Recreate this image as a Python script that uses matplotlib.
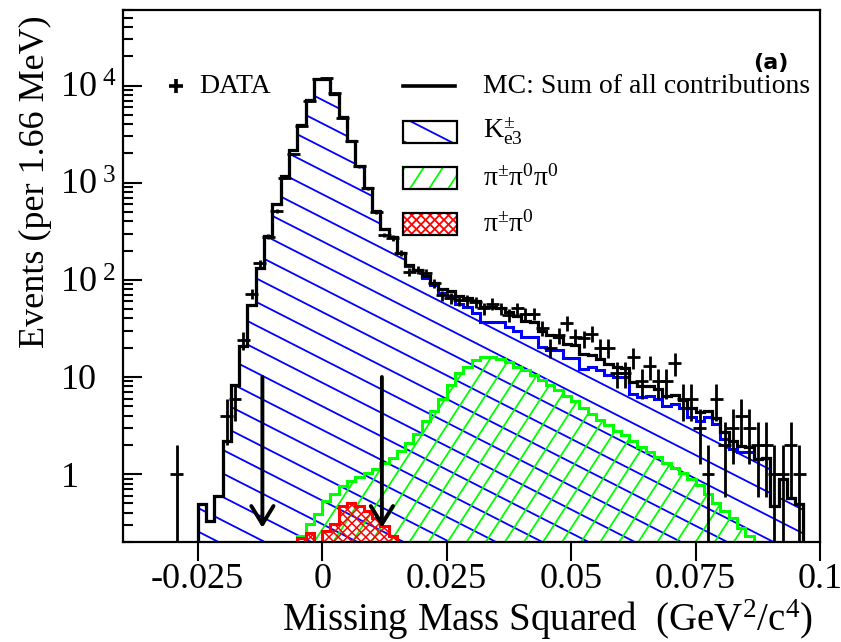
import numpy as np
import matplotlib
matplotlib.use("Agg")
import matplotlib.pyplot as plt
from matplotlib.patches import Polygon, Rectangle
from matplotlib.collections import LineCollection
from matplotlib.ticker import NullLocator, NullFormatter

plt.rcParams['font.family'] = ['Liberation Serif', 'DejaVu Serif']
plt.rcParams['mathtext.fontset'] = 'custom'
plt.rcParams['mathtext.rm'] = 'Liberation Serif'
plt.rcParams['mathtext.it'] = 'Liberation Serif:italic'
plt.rcParams['mathtext.bf'] = 'Liberation Serif:bold'
plt.rcParams['mathtext.default'] = 'rm'

# binning: 84 bins of 1.66 MeV between -0.04 and 0.1 GeV^2/c^4
x_lo, x_hi, n_bins = -0.04, 0.1, 84

# MC K_e3 (first filled bin = 9)
ke3_first = 9
ke3 = [0.49, 0.33, 0.59, 2.2, 8.2, 21, 55, 131, 285, 605,
       1160, 2150, 3960, 7180, 11600, 11800, 8200, 4760, 2670, 1500,
       880, 515, 333, 276, 188, 140, 125, 105, 88, 74,
       68, 57, 52, 46, 36.5, 36.5, 36.5, 33, 30, 25.8,
       25.8, 20.3, 18.8, 18.8, 15.5, 15.5, 12.2, 12.8, 11.7, 10.4,
       9.9, 9.9, 6.75, 6.2, 6.4, 6.0, 5.07, 5.3, 4.77, 3.84,
       3.55, 3.84, 3.3, 2.3, 1.83, 1.67, 1.67, 1.44, 1.48, 0.47,
       0.89, 0.57, 0.49]

# MC pi+- pi0 pi0 (first filled bin = 21)
pi3_first = 21
pi3 = [0.23, 0.31, 0.39, 0.53, 0.63, 0.76, 0.85, 0.94, 1.03, 1.13,
       1.31, 1.47, 1.74, 2.1, 2.6, 3.55, 4.5, 6.0, 8.2, 10.9,
       12.8, 14.8, 15.9, 15.9, 15.2, 14.1, 12.8, 11.7, 10.6, 9.2,
       8.2, 7.3, 6.3, 5.6, 4.85, 4.2, 3.64, 3.23, 2.8, 2.5,
       2.2, 1.9, 1.7, 1.5, 1.3, 1.16, 1.03, 0.9, 0.78, 0.63,
       0.5, 0.42, 0.35, 0.28, 0.23]

# MC pi+- pi0 (first filled bin = 21)
pi2_first = 21
pi2 = [0.22, 0.25, 0.0, 0.26, 0.31, 0.47, 0.5, 0.47, 0.42, 0.35,
       0.29, 0.23]

# data: bin index and counts
data_bins = [6] + list(range(12, 82))
data_counts = [1, 4, 6, 24, 72, 148, 278, 516, 1116, 1990,
               3800, 6900, 11600, 12100, 8430, 4650, 2670, 1470, 880, 504,
               290, 270, 189, 121, 126, 117, 92, 69, 65, 62,
               62, 59, 51, 57, 51, 43, 51, 45, 45, 32,
               20, 27, 36, 26, 25, 28, 20, 20, 11, 11,
               16, 9, 13, 9, 9, 14, 6, 6, 3, 1,
               6, 2, 3, 4, 3, 2, 2, 1, 1, 2,
               1]

cut_lo, cut_hi = -0.012, 0.012
arrow_top, arrow_tip = 10, 0.28

edges = np.linspace(x_lo, x_hi, n_bins + 1)
centers = 0.5 * (edges[:-1] + edges[1:])
half_w = 0.0013
base = 1e-3


def full(first, vals):
    a = np.zeros(n_bins)
    a[first:first + len(vals)] = vals
    return a


h_ke3 = full(ke3_first, ke3)
h_pi3 = full(pi3_first, pi3)
h_pi2 = full(pi2_first, pi2)
h_sum = h_ke3 + h_pi3 + h_pi2

fig = plt.figure(figsize=(8.41, 6.42), dpi=100)
ax = fig.add_axes([123 / 841, 100 / 642, 697 / 841, 532 / 642])
ax.set_yscale('log')
ax.set_xlim(x_lo, x_hi)
ax.set_ylim(0.2, 6e4)


def hist_range(values):
    nz = np.nonzero(values)[0]
    return nz[0], nz[-1]


def hist_polygon(values):
    i0, i1 = hist_range(values)
    verts = [(edges[i0], base)]
    for i in range(i0, i1 + 1):
        v = max(values[i], base)
        verts += [(edges[i], v), (edges[i + 1], v)]
    verts.append((edges[i1 + 1], base))
    poly = Polygon(verts, closed=True, facecolor='none', edgecolor='none')
    ax.add_patch(poly)
    return poly


def hatch_lines(clip, angle, spacing, color, lw=1.0, z=1.0):
    bb = ax.get_window_extent()
    W, H = bb.width, bb.height
    a = np.deg2rad(angle)
    d = np.array([np.cos(a), np.sin(a)])
    nrm = np.array([-np.sin(a), np.cos(a)])
    L = np.hypot(W, H)
    segs = []
    for o in np.arange(-L, L, spacing):
        c = np.array([W / 2, H / 2]) + o * nrm
        p0, p1 = c - L * d, c + L * d
        segs.append([(p0[0] / W, p0[1] / H), (p1[0] / W, p1[1] / H)])
    lc = LineCollection(segs, colors=color, linewidths=lw,
                        transform=ax.transAxes, zorder=z)
    ax.add_collection(lc, autolim=False)
    lc.set_clip_path(clip)


def outline(values, color, lw, z):
    i0, i1 = hist_range(values)
    ax.stairs(np.maximum(values[i0:i1 + 1], base), edges[i0:i1 + 2],
              baseline=base, color=color, lw=lw, zorder=z)


styles = [  # (hist, colour, angle, spacing)
    (h_ke3, '#0000ff', -27, 21),
    (h_pi3, '#00ff00', 57, 16),
]
for i, (h, col, ang, sp) in enumerate(styles):
    p = hist_polygon(h)
    hatch_lines(p, ang, sp, col, 1.3, 1.0 + 0.1 * i)
p = hist_polygon(h_pi2)
hatch_lines(p, 45, 6.5, '#ff0000', 1.1, 1.2)
hatch_lines(p, -45, 6.5, '#ff0000', 1.1, 1.2)

outline(h_ke3, '#0000ff', 2.2, 2.0)
outline(h_pi3, '#00ff00', 2.2, 2.1)
outline(h_pi2, '#ff0000', 2.2, 2.2)
outline(h_sum, 'black', 2.3, 3.0)

# data points with sqrt(N) errors
xd = centers[data_bins]
yd = np.array(data_counts, dtype=float)
err = np.sqrt(yd)
lo = np.minimum(err, yd * 0.9999)
ax.errorbar(xd, yd, yerr=[lo, err], xerr=half_w, fmt='none',
            ecolor='black', elinewidth=2.0, capsize=0, zorder=4)

# cut arrows
for xc in (cut_lo, cut_hi):
    ax.annotate('', xy=(xc, arrow_tip), xytext=(xc, arrow_top),
                arrowprops=dict(arrowstyle='->,head_length=0.65,head_width=0.4',
                                lw=2.8, color='black', shrinkA=0, shrinkB=0,
                                mutation_scale=20), zorder=5)

# legend (drawn by hand to mimic the ROOT style)
ax.plot([0.076], [0.857], marker='+', markersize=10, mew=2.6, color='black',
        transform=ax.transAxes, zorder=6)
ax.text(0.109, 0.857, 'DATA', transform=ax.transAxes, fontsize=20, va='center')
ax.plot([0.402, 0.476], [0.857, 0.857], color='black', lw=2.6,
        transform=ax.transAxes, zorder=6)
ax.text(0.516, 0.857, 'MC: Sum of all contributions', transform=ax.transAxes,
        fontsize=20, va='center')

leg_items = [
    (0.771, r'K$^{\pm}_{\mathrm{e3}}$', [('#0000ff', -27, 21)]),
    (0.684, r'π$^{\pm}$π$^{0}$π$^{0}$', [('#00ff00', 57, 16)]),
    (0.598, r'π$^{\pm}$π$^{0}$', [('#ff0000', 45, 6.5), ('#ff0000', -45, 6.5)]),
]
box_x, box_w, box_h = 0.402, 0.077, 0.041
for yc, label, hatches in leg_items:
    bg = Rectangle((box_x, yc - box_h / 2), box_w, box_h, transform=ax.transAxes,
                   facecolor='white', edgecolor='none', zorder=5)
    ax.add_patch(bg)
    for col, ang, sp in hatches:
        hatch_lines(bg, ang, sp, col, 1.3, 5.5)
    ax.add_patch(Rectangle((box_x, yc - box_h / 2), box_w, box_h,
                           transform=ax.transAxes, fill=False,
                           edgecolor='black', lw=1.6, zorder=6))
    ax.text(0.516, yc, label, transform=ax.transAxes, fontsize=20, va='center')

ax.text(0.929, 0.9, '(a)', transform=ax.transAxes, fontsize=16,
        family='DejaVu Sans', fontweight='bold', ha='center', va='center')

# axes cosmetics
x_ticks = [-0.025, 0, 0.025, 0.05, 0.075, 0.1]
x_labels = ['-0.025', '0', '0.025', '0.05', '0.075', '0.1']
ax.set_xticks(x_ticks)
ax.set_xticklabels(x_labels)
ax.xaxis.set_minor_locator(NullLocator())
ax.tick_params(axis='x', direction='out', length=14, width=1.5,
               labelsize=26, pad=1, top=False)

y_ticks = [1, 10, 100, 1000, 10000]
y_labels = ['1', '10', r'10$^{\ 2}$', r'10$^{\ 3}$', r'10$^{\ 4}$']
ax.set_yticks(y_ticks)
ax.set_yticklabels(y_labels)
ax.yaxis.set_minor_formatter(NullFormatter())
ax.tick_params(axis='y', which='major', direction='in', length=14, width=1.5,
               labelsize=26, pad=45, right=False)
ax.tick_params(axis='y', which='minor', direction='in', length=7, width=1.5,
               right=False)
for lbl in ax.get_yticklabels():
    lbl.set_horizontalalignment('left')
for s in ax.spines.values():
    s.set_linewidth(1.6)

ax.set_xlabel(r'Missing Mass Squared  (GeV$^{2}$/c$^{4}$)', fontsize=28,
              ha='right', va='center')
ax.xaxis.set_label_coords(0.99, -0.146)
ax.set_ylabel('Events (per 1.66 MeV)', fontsize=26, ha='right', va='center')
ax.yaxis.set_label_coords(-0.126, 0.99)

fig.savefig('out.png', dpi=100)
